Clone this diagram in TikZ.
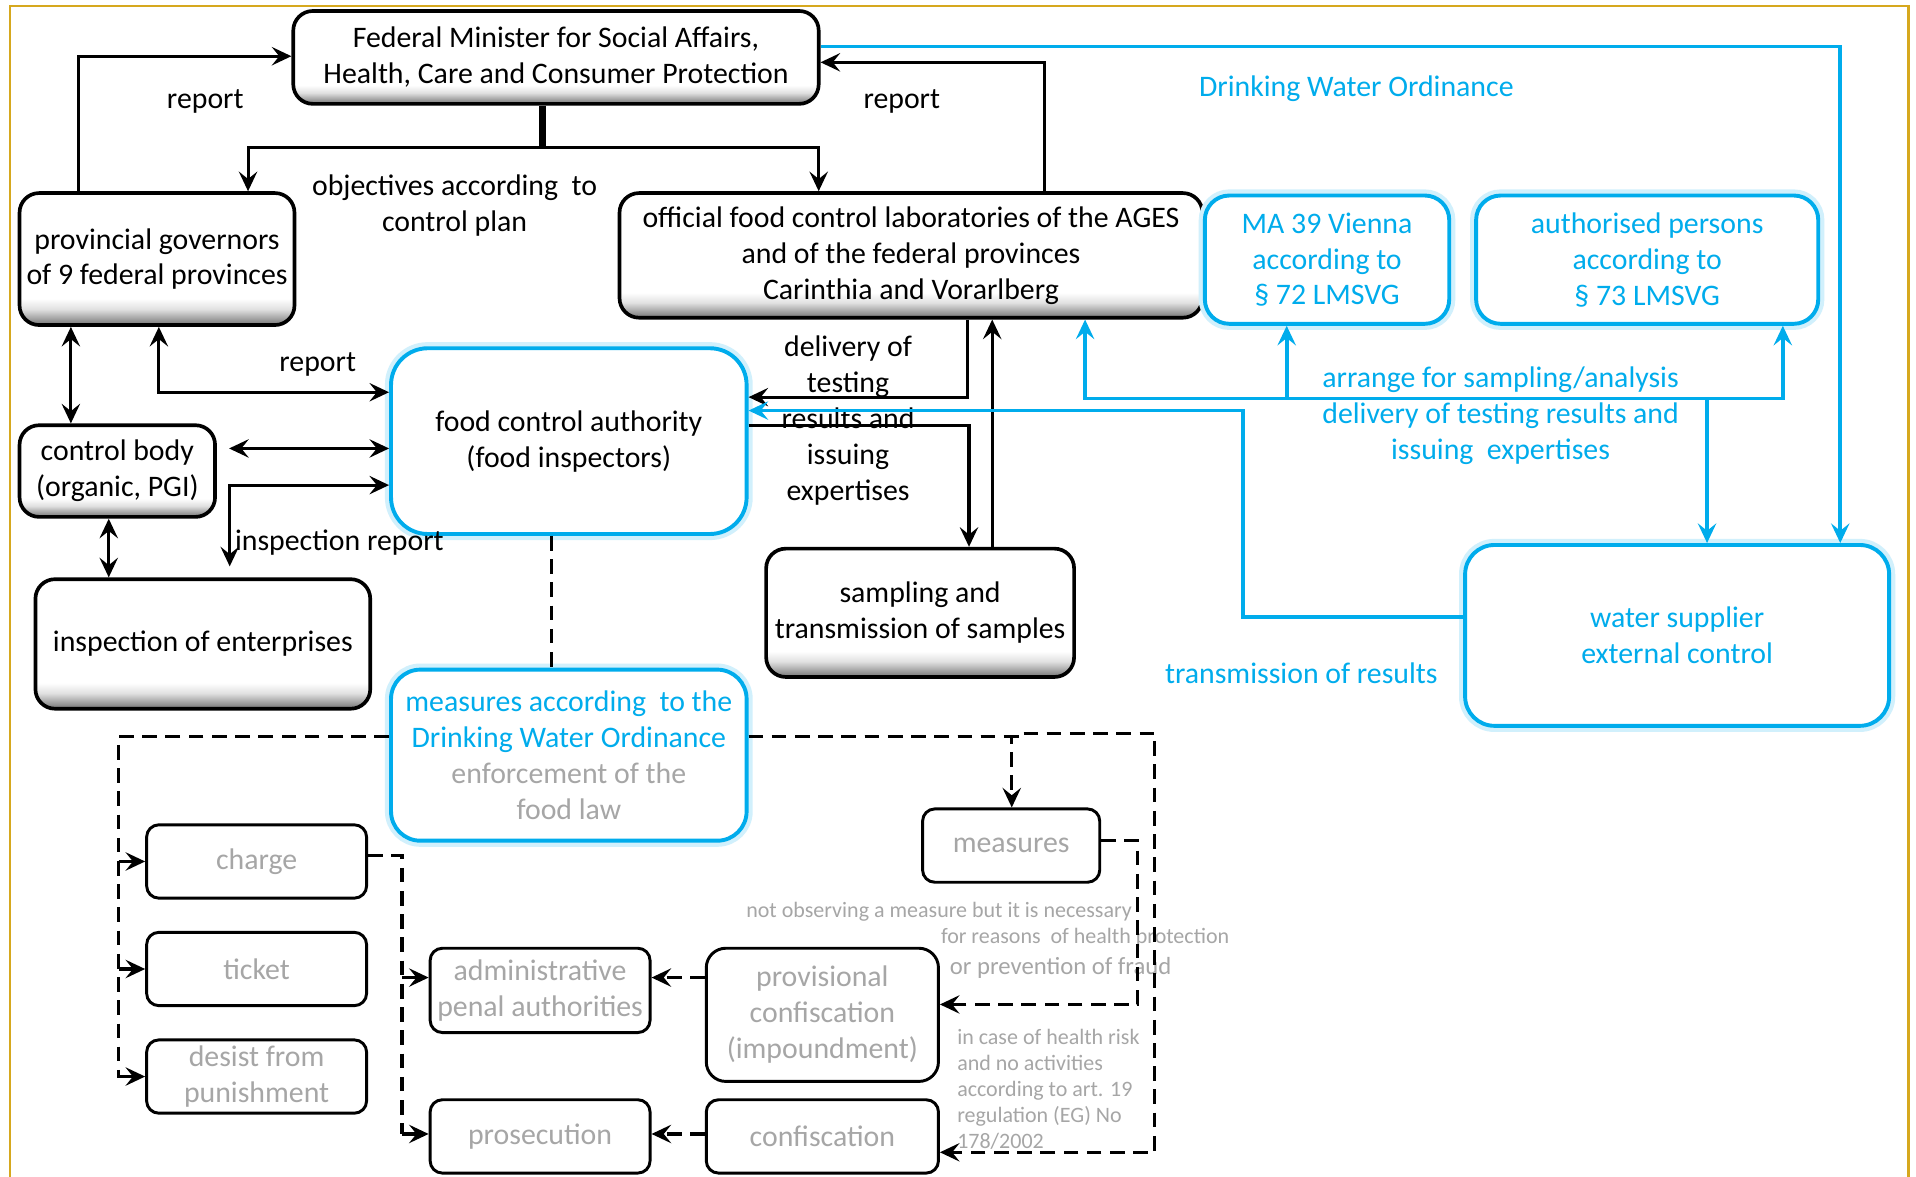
\documentclass[tikz,border=0pt]{standalone}
\usepackage{fontspec}
\setmainfont{Carlito}
\usetikzlibrary{arrows.meta,calc}
\definecolor{myblue}{RGB}{0,172,236}
\definecolor{mygray}{RGB}{166,166,166}
\definecolor{gold}{RGB}{214,168,30}
\pgfdeclareverticalshading{boxshade}{100bp}{color(0bp)=(black!55); color(25bp)=(black!55); color(27bp)=(black!40); color(31bp)=(black!12); color(35bp)=(white); color(100bp)=(white)}
\begin{document}
\begin{tikzpicture}[x=0.5pt,y=-0.5pt,
  >={Stealth[length=8pt,width=7.5pt,inset=3pt]},
  base/.style={font=\fontsize{12.2pt}{14.7pt}\selectfont},
  blk/.style={base, draw=black, line width=1.5pt, rounded corners=8pt, shade, shading=boxshade, align=center, inner sep=0pt},
  blu/.style={base, draw=myblue, line width=1.6pt, rounded corners=10pt, fill=white, align=center, text=myblue, inner sep=0pt, preaction={draw=myblue!18, line width=5pt}},
  sm/.style={base, draw=black, line width=1.2pt, rounded corners=5pt, fill=white, text=mygray, align=center, inner sep=0pt},
  lbl/.style={base, align=center, inner sep=0pt, yshift=-1pt},
  smlbl/.style={font=\fontsize{9pt}{10.6pt}\selectfont, text=mygray, inner sep=0pt, yshift=-0.5pt},
  con/.style={line width=1.25pt, draw=black},
  arr/.style={con, ->},
  bcon/.style={line width=1.5pt, draw=myblue},
  dsh/.style={con, dash pattern=on 6pt off 3.5pt}
]
\fill[white] (0,0) rectangle (1568,963);
\useasboundingbox (0,0) rectangle (1568,963);
\draw[gold, line width=1pt] (8,1000) -- (8,5) -- (1562,5) -- (1562,1000);

% main nodes
\node[blk, minimum width=215pt, minimum height=38pt] (fed) at (455,47) {Federal Minister for Social Affairs,\\Health, Care and Consumer Protection};
\node[blk, minimum width=112.5pt, minimum height=54pt] (prov) at (128.5,212) {provincial governors\\of 9 federal provinces};
\node[blk, minimum width=238.5pt, minimum height=51pt] (lab) at (745.5,209) {official food control laboratories of the AGES\\and of the federal provinces\\Carinthia and Vorarlberg};
\node[blu, minimum width=100pt, minimum height=52.5pt] (ma) at (1086,212.5) {MA 39 Vienna\\according to\\§ 72 LMSVG};
\node[blu, minimum width=140pt, minimum height=52.5pt] (auth) at (1348,212.5) {authorised persons\\according to\\§ 73 LMSVG};
\node[blu, text=black, rounded corners=15pt, minimum width=145.5pt, minimum height=76pt] (fca) at (465.5,361) {food control authority\\(food inspectors)};
\node[blk, minimum width=80pt, minimum height=37.5pt] (cb) at (96,385.5) {control body\\(organic, PGI)};
\node[blk, minimum width=137pt, minimum height=53pt] (insp) at (166,527) {inspection of enterprises};
\node[blk, minimum width=126pt, minimum height=52.5pt] (samp) at (753,501.5) {sampling and\\transmission of samples};
\node[blu, rounded corners=12pt, minimum width=173.5pt, minimum height=74pt] (water) at (1372.5,520) {water supplier\\external control};
\node[blu, text=mygray, rounded corners=12pt, minimum width=145.5pt, minimum height=70pt] (meas) at (465.5,618) {\textcolor{myblue}{measures according~ to the}\\\textcolor{myblue}{Drinking Water Ordinance}\\enforcement of the\\food law};

% lower nodes
\node[sm, minimum width=90pt, minimum height=30pt] (charge) at (210,705) {charge};
\node[sm, minimum width=90pt, minimum height=30pt] (ticket) at (210,793) {ticket};
\node[sm, minimum width=90pt, minimum height=30pt] (desist) at (210,881) {desist from\\punishment};
\node[sm, minimum width=90pt, minimum height=34.5pt] (adm) at (442,810.5) {administrative\\penal authorities};
\node[sm, minimum width=90pt, minimum height=30pt] (pros) at (442,930) {prosecution};
\node[sm, minimum width=95pt, minimum height=54.5pt, rounded corners=8pt] (prov2) at (673,830.5) {provisional\\confiscation\\(impoundment)};
\node[sm, minimum width=95pt, minimum height=30pt] (conf) at (673,930) {confiscation};
\node[sm, minimum width=72.5pt, minimum height=30pt] (msr) at (827.5,692) {measures};

% labels
\node[lbl] (r1) at (168,81) {report};
\node[lbl] (r2) at (738,81) {report};
\node[lbl] (obj) at (372,166) {objectives according~ to\\control plan};
\node[lbl, text=myblue] (dwo) at (1110,71) {Drinking Water Ordinance};
\node[lbl] (r3) at (260,296) {report};
\node[lbl] (del) at (694,342) {delivery of\\testing\\results and\\issuing\\expertises};
\node[lbl, anchor=west] (ir) at (192,442) {inspection report};
\node[lbl, text=myblue] (arrange) at (1228,338) {arrange for sampling/analysis\\delivery of testing results and\\issuing~ expertises};
\node[lbl, text=myblue] (tr) at (1065,549) {transmission of results};
\node[smlbl] (n1) at (768.5,745) {not observing a measure but it is necessary};
\node[smlbl] (n2) at (888,766) {for reasons~ of health protection};
\node[smlbl, font=\fontsize{10.1pt}{11pt}\selectfont] (n3) at (868,791) {or prevention of fraud};
\node[smlbl, align=left, anchor=west] (n4) at (783,890.5) {in case of health risk\\and no activities\\according to art. 19\\regulation (EG) No\\178/2002};

% black connectors
\draw[arr] (prov.north -| 64,0) |- (fed.west |- 0,46);
\draw[con, line width=2.6pt] (fed.south -| 444,0) -- (444,121);
\draw[con, <->] (prov.north -| 203,0) -- (203,121) -- (670,121) -- (lab.north -| 670,0);
\draw[arr] (lab.north -| 855,0) |- (fed.east |- 0,51);
\draw[con,<->] (prov.south -| 58,0) -- (cb.north -| 58,0);
\draw[con,<->] (prov.south -| 130,0) |- (fca.west |- 0,321);
\draw[con,<->, shorten <=5pt] (cb.east |- 0,367) -- (fca.west |- 0,367);
\draw[con,<->, shorten >=4.5pt] (fca.west |- 0,397) -| (insp.north -| 188,0);
\draw[con,<->] (cb.south -| 89,0) -- (insp.north -| 89,0);
\draw[arr] (lab.south -| 792,0) |- (fca.east |- 0,325);
\draw[arr] (fca.east |- 0,348) -| (samp.north -| 793,0);
\draw[arr] (samp.north -| 812,0) -- (lab.south -| 812,0);
\draw[dsh] (fca.south -| 451,0) -- (meas.north -| 451,0);

% blue connectors
\draw[bcon,->] (fed.east |- 0,38) -| (water.north -| 1506,0);
\draw[bcon,<->] (lab.south -| 888,0) -- (888,326) -- (1459,326) -- (auth.south -| 1459,0);
\draw[bcon,->] (1053,326) -- (ma.south -| 1053,0);
\draw[bcon,->] (1397,326) -- (water.north -| 1397,0);
\draw[bcon,->] (water.west |- 0,505) -| (1017,336) -- (fca.east |- 0,336);

% dashed connectors
\draw[dsh] (meas.west |- 0,603) -| (97,882);
\draw[con,->] (97,705) -- (charge.west);
\draw[con,->] (97,793) -- (ticket.west);
\draw[con,->] (97,881) -- (desist.west);
\draw[dsh,->] (meas.east |- 0,603) -| (msr.north -| 828,0);
\draw[dsh,->] (meas.east |- 0,603) -- (836,603) -- (836,600) -| (945,943) -- (conf.east |- 0,943);
\draw[dsh,->] (msr.east |- 0,688) -| (931,822) -- (prov2.east |- 0,822);
\draw[dsh] (charge.east |- 0,700) -| (329,928);
\draw[con,->] (329,928) -- (pros.west |- 0,928);
\draw[con,->] (329,800) -- (adm.west |- 0,800);
\draw[dsh,->] (prov2.west |- 0,800) -- (adm.east |- 0,800);
\draw[dsh,->] (conf.west |- 0,928) -- (pros.east |- 0,928);
\end{tikzpicture}
\end{document}
